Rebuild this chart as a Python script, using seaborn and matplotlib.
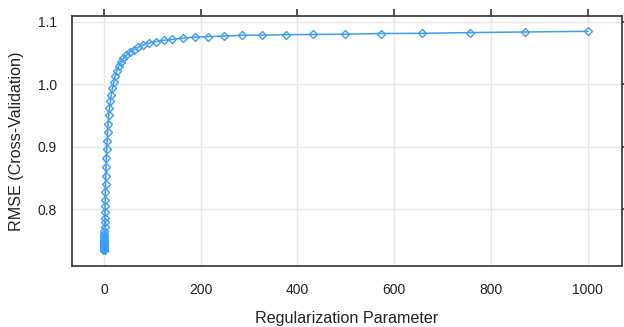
import matplotlib
matplotlib.use("Agg")
import matplotlib.pyplot as plt
import pandas as pd
import seaborn as sns

# regularization parameter grid (log spaced 0.001 .. 1000)
lam = [0.001, 0.00115, 0.00132, 0.00152, 0.00175, 0.00201, 0.00231, 0.00266, 0.00305, 0.00351,
       0.00404, 0.00464, 0.00534, 0.00614, 0.00705, 0.00811, 0.00933, 0.0107, 0.0123, 0.0142,
       0.0163, 0.0187, 0.0215, 0.0248, 0.0285, 0.0327, 0.0376, 0.0433, 0.0498, 0.0572,
       0.0658, 0.0756, 0.0870, 0.100, 0.115, 0.132, 0.152, 0.175, 0.201, 0.231,
       0.266, 0.305, 0.351, 0.404, 0.464, 0.534, 0.614, 0.705, 0.811, 0.933,
       1.07, 1.23, 1.42, 1.63, 1.87, 2.15, 2.48, 2.85, 3.27, 3.76,
       4.33, 4.98, 5.72, 6.58, 7.56, 8.70, 10.0, 11.5, 13.2, 15.2,
       17.5, 20.1, 23.1, 26.6, 30.5, 35.1, 40.4, 46.4, 53.4, 61.4,
       70.5, 81.1, 93.3, 107.2, 123.3, 141.7, 163.0, 187.4, 215.4, 247.7,
       284.8, 327.5, 376.5, 432.9, 497.7, 572.2, 657.9, 756.5, 869.7, 1000.0]

rmse = [0.7350, 0.7350, 0.7350, 0.7351, 0.7351, 0.7351, 0.7352, 0.7352, 0.7352, 0.7353,
        0.7353, 0.7354, 0.7354, 0.7355, 0.7355, 0.7356, 0.7357, 0.7358, 0.7359, 0.7360,
        0.7361, 0.7362, 0.7364, 0.7366, 0.7368, 0.7370, 0.7372, 0.7375, 0.7378, 0.7381,
        0.7385, 0.7389, 0.7393, 0.7398, 0.7403, 0.7408, 0.7414, 0.7420, 0.7427, 0.7434,
        0.7442, 0.7450, 0.7460, 0.7470, 0.7482, 0.7495, 0.7514, 0.7540, 0.7575, 0.7610,
        0.7660, 0.7720, 0.7796, 0.7870, 0.7957, 0.8053, 0.8155, 0.8278, 0.8406, 0.8540,
        0.8680, 0.8820, 0.8963, 0.9096, 0.9240, 0.9375, 0.9510, 0.9625, 0.9730, 0.9836,
        0.9936, 1.0040, 1.0134, 1.0220, 1.0290, 1.0364, 1.0418, 1.0470, 1.0520, 1.0556,
        1.0594, 1.0630, 1.0663, 1.0684, 1.0706, 1.0722, 1.0740, 1.0758, 1.0765, 1.0775,
        1.0786, 1.0790, 1.0796, 1.0800, 1.0804, 1.0815, 1.0818, 1.0830, 1.0840, 1.0850]

x_ticks = [0, 200, 400, 600, 800, 1000]
y_ticks = [0.8, 0.9, 1.0, 1.1]

df = pd.DataFrame({"lambda": lam, "RMSE": rmse})

sns.set_style("white")
plt.rcParams["font.family"] = ["Liberation Sans", "DejaVu Sans"]

fig = plt.figure(figsize=(6.24, 3.27), dpi=100)
ax = fig.add_axes([0.1154, 0.1865, 0.8814, 0.7645])

blue = "#3d9cf5"
sns.lineplot(data=df, x="lambda", y="RMSE", ax=ax, color=blue, linewidth=1.1,
             marker="D", markersize=4, markerfacecolor="none",
             markeredgecolor=blue, markeredgewidth=1.0)

ax.set_xlim(-66, 1071)
ax.set_ylim(0.7095, 1.1095)
ax.set_xticks(x_ticks)
ax.set_yticks(y_ticks)
ax.set_yticklabels([f"{v:.1f}" for v in y_ticks])
ax.grid(True, color="#e8e8e8", linewidth=1)
ax.set_axisbelow(True)

for s in ax.spines.values():
    s.set_color("#333333")
    s.set_linewidth(1.2)

ax.tick_params(axis="both", which="both", direction="out", length=5, width=1.2,
               color="#333333", labelsize=10, labelcolor="#222222",
               top=True, right=True, labeltop=False, labelright=False)
ax.tick_params(axis="x", pad=7)
ax.tick_params(axis="y", pad=6)

ax.set_xlabel("Regularization Parameter", fontsize=11.6, color="#222222", labelpad=10)
ax.set_ylabel("RMSE (Cross-Validation)", fontsize=11.6, color="#222222", labelpad=10)

fig.savefig("out.png", dpi=100)
